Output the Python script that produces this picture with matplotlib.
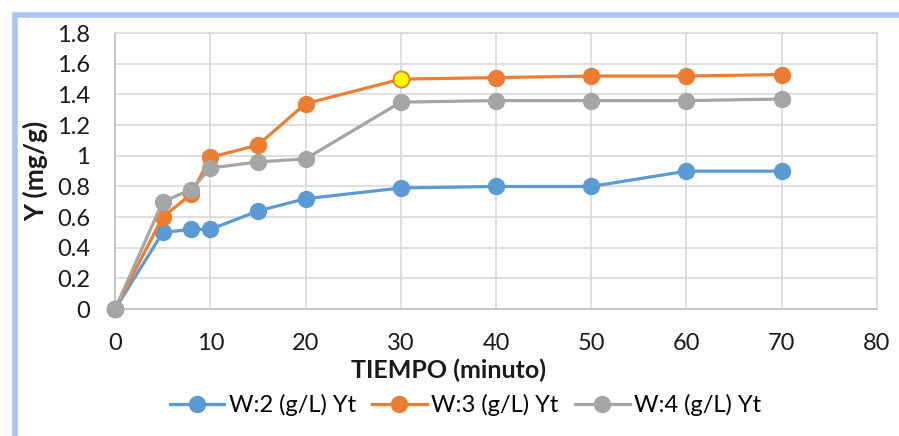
import matplotlib.pyplot as plt
from matplotlib.patches import Rectangle

# datos
tiempo = [0, 5, 8, 10, 15, 20, 30, 40, 50, 60, 70]
w2 = [0, 0.50, 0.52, 0.52, 0.64, 0.72, 0.79, 0.80, 0.80, 0.90, 0.90]
w3 = [0, 0.60, 0.75, 0.99, 1.07, 1.34, 1.50, 1.51, 1.52, 1.52, 1.53]
w4 = [0, 0.70, 0.78, 0.92, 0.96, 0.98, 1.35, 1.36, 1.36, 1.36, 1.37]
labels = ["W:2 (g/L) Yt", "W:3 (g/L) Yt", "W:4 (g/L) Yt"]
colors = ["#5b9bd5", "#ed7d31", "#a5a5a5"]

plt.rcParams['font.family'] = ['Lato', 'DejaVu Sans']

fig = plt.figure(figsize=(8.99, 4.36), dpi=100)

# marco azul del grafico
fig.patches.append(Rectangle((0.017, -0.05), 1.2, 1.015, transform=fig.transFigure,
                             fill=False, edgecolor="#a9c4ee", linewidth=4, zorder=0))

ax = fig.add_axes([0.128, 0.291, 0.8475, 0.633])

for y, c, lab in zip([w2, w3, w4], colors, labels):
    ax.plot(tiempo, y, color=c, lw=2.3, marker='o', ms=11.5, mec=c, mfc=c,
            label=lab, clip_on=False, zorder=3)

# punto resaltado
ax.plot(tiempo[6], w3[6], marker='o', ms=11.5, mfc='yellow', mec=colors[1],
        mew=1.3, zorder=4, clip_on=False)

ax.set_xlim(0, 80)
ax.set_ylim(0, 1.8)
ax.set_xticks(range(0, 81, 10))
ax.set_yticks([0, 0.2, 0.4, 0.6, 0.8, 1, 1.2, 1.4, 1.6, 1.8])
ax.set_yticklabels(["0", "0.2", "0.4", "0.6", "0.8", "1", "1.2", "1.4", "1.6", "1.8"])
ax.grid(True, color="#d9d9d9", lw=1.2)
ax.set_axisbelow(True)
for s in ax.spines.values():
    s.set_color("#d9d9d9")
    s.set_linewidth(1.2)
ax.spines['bottom'].set_color("#bfbfbf")
ax.spines['left'].set_color("#bfbfbf")
ax.tick_params(length=0, labelsize=17, colors="#1a1a1a")
ax.tick_params(axis='y', pad=18)
ax.tick_params(axis='x', pad=17)

ax.set_xlabel("TIEMPO (minuto)", fontsize=18, fontweight='bold', color="#1a1a1a", va='center')
ax.xaxis.set_label_coords(0.438, -0.221)
ax.set_ylabel("Y (mg/g)", fontsize=19, fontweight='bold', color="#1a1a1a", va='center')
ax.yaxis.set_label_coords(-0.104, 0.5)

ax.legend(loc='center', bbox_to_anchor=(0.46, -0.348), ncol=3, frameon=False,
          fontsize=17, handlelength=2.3, columnspacing=0.7, handletextpad=0.2)

fig.savefig("out.png", dpi=100)
